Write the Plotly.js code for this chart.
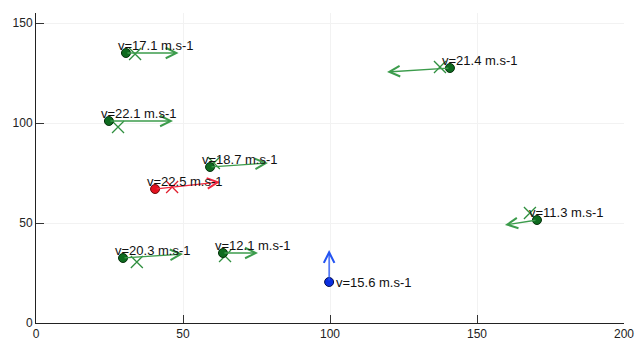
<!DOCTYPE html>
<html>
<head>
<meta charset="utf-8">
<script src="https://cdn.plot.ly/plotly-3.0.1.min.js"></script>
<style>html,body{margin:0;padding:0;background:#fff;}#chart{width:635px;height:341px;}</style>
</head>
<body>
<div id="chart"></div>
<script>
// Data
const labels = ['v=17.1 m.s-1','v=22.1 m.s-1','v=22.5 m.s-1','v=18.7 m.s-1','v=20.3 m.s-1','v=12.1 m.s-1','v=15.6 m.s-1','v=21.4 m.s-1','v=11.3 m.s-1'];
const dotX = [30.6, 24.8, 40.5, 59.2, 29.6, 63.6, 99.7, 140.8, 170.4];
const dotY = [135, 101, 67, 78, 32.5, 35, 20.5, 127.5, 51.5];
const headX = [48.5, 46.6, 62.6, 78.9, 50, 75.5, 99.7, 119.4, 159.5];
const headY = [135, 101, 70.5, 80, 34.5, 35, 36.5, 125.5, 49];
const crossX = [33.7, 27.9, 46.3, 60.5, 34.3, 64.3, null, 137.4, 168];
const crossY = [134.5, 98, 68, 80, 30.5, 33.5, null, 128, 55];
const group = ['g','g','r','g','g','g','b','g','g'];
const labelPos = ['above','above','above','above','above','above','right','above','above'];

// Styles
const style = {
  g: {arrow:'#3c9c4c', dot:'#0e6b1f', edge:'#06300c', cross:'#2f8f3f'},
  r: {arrow:'#f2263e', dot:'#e3121f', edge:'#6a0a0a', cross:'#e0202e'},
  b: {arrow:'#2454f2', dot:'#0a2ee0', edge:'#050f50', cross:'#2040e0'}
};

const traces = [];
// crosses
traces.push({
  type:'scatter', mode:'markers', x:crossX, y:crossY, hoverinfo:'skip',
  marker:{symbol:'x-thin-open', size:12, color:group.map(g=>style[g].cross), line:{width:1.3}}
});
// dots
traces.push({
  type:'scatter', mode:'markers', x:dotX, y:dotY, hoverinfo:'skip',
  marker:{symbol:'circle', size:9, color:group.map(g=>style[g].dot), line:{width:1, color:group.map(g=>style[g].edge)}}
});

const annotations = [];
for (let i=0;i<labels.length;i++){
  annotations.push({
    x: headX[i], y: headY[i], ax: dotX[i], ay: dotY[i],
    xref:'x', yref:'y', axref:'x', ayref:'y',
    text:'', showarrow:true, arrowhead:5, arrowsize:1.6, arrowwidth:1.3,
    arrowcolor: style[group[i]].arrow, standoff:0, startstandoff:0
  });
  const right = labelPos[i]==='right';
  annotations.push({
    x: dotX[i], y: dotY[i], xref:'x', yref:'y', text: labels[i], showarrow:false,
    xanchor:'left', yanchor: right ? 'middle' : 'bottom',
    xshift: right ? 5 : -10, yshift: right ? 0 : -2,
    font:{family:'Liberation Sans, Arial, sans-serif', size:13, color:'#111'}
  });
}

const axisCommon = {
  showline:true, linecolor:'#222', linewidth:1, mirror:false,
  ticks:'inside', ticklen:8, tickwidth:1, tickcolor:'#333',
  showgrid:true, gridcolor:'#f2f2f2', gridwidth:1, zeroline:false,
  tickfont:{family:'Liberation Sans, Arial, sans-serif', size:12, color:'#222'}
};

const layout = {
  width:635, height:341,
  margin:{l:36, r:11, t:13, b:18},
  paper_bgcolor:'#fff', plot_bgcolor:'#fff',
  showlegend:false,
  xaxis: Object.assign({}, axisCommon, {range:[0,200], tickvals:[0,50,100,150,200]}),
  yaxis: Object.assign({}, axisCommon, {range:[0,155], tickvals:[0,50,100,150]}),
  annotations: annotations
};

Plotly.newPlot('chart', traces, layout, {displayModeBar:false, staticPlot:true});
</script>
</body>
</html>
